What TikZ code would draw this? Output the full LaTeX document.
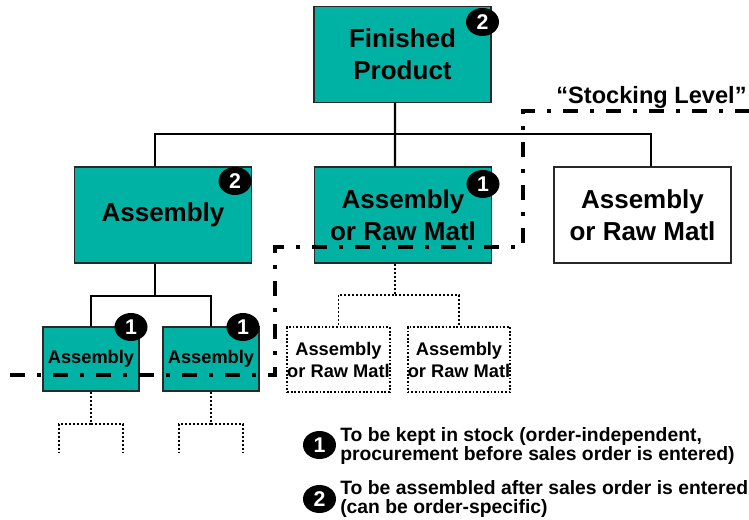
\documentclass[tikz,border=0pt]{standalone}
\usepackage{fontspec}
\setmainfont{Liberation Sans}
\usetikzlibrary{shapes.geometric}
\definecolor{tealbox}{RGB}{0,178,164}
\definecolor{boxline}{RGB}{40,40,40}
\begin{document}
\begin{tikzpicture}[x=0.75pt,y=-0.75pt,
  bigbox/.style={draw=boxline, line width=1.1pt, fill=tealbox, inner sep=0pt, align=center,
    minimum width=132.5pt, minimum height=72pt, font=\bfseries\fontsize{19.5}{24}\selectfont},
  whitebox/.style={bigbox, fill=white},
  smallbox/.style={draw=boxline, line width=1.1pt, fill=tealbox, inner sep=0pt, align=center,
    minimum width=72pt, minimum height=48pt, font=\bfseries\fontsize{13.7}{16.5}\selectfont},
  dotbox/.style={draw=black, line width=1.3pt, dash pattern=on 1.3pt off 1.4pt, inner sep=0pt, align=center,
    minimum width=73pt, minimum height=48.75pt, font=\bfseries\fontsize{13.7}{16.5}\selectfont},
  badge/.style={ellipse, fill=black, text=white, inner sep=0pt, minimum width=24.75pt, minimum height=21pt,
    font=\bfseries\fontsize{16}{16}\selectfont},
  tree/.style={draw=black, line width=1.6pt},
  dottree/.style={draw=black, line width=1.4pt, dash pattern=on 1.4pt off 1.6pt},
  stockline/.style={draw=black, line width=3pt, dash pattern=on 11.25pt off 9pt on 3pt off 9pt},
  legend/.style={anchor=base west, inner sep=0pt, font=\bfseries\fontsize{14.5}{17}\selectfont},
  stocklabel/.style={anchor=base, inner sep=0pt, font=\bfseries\fontsize{17.7}{20}\selectfont}
]
\useasboundingbox (0,0) rectangle (749,520);

% boxes
\node[bigbox] (fp) at (402.5,54.5) {Finished\\Product};
\node[bigbox] (asm) at (163,215) {Assembly};
\node[bigbox] (mid) at (403,215) {Assembly\\or Raw Matl};
\node[whitebox] (wht) at (642.5,215) {Assembly\\or Raw Matl};
\node[smallbox] (sa1) at (91,359) {Assembly};
\node[smallbox] (sa2) at (211,359) {Assembly};
\node[dotbox] (d1) at (338.5,359.5) {Assembly\\or Raw Matl};
\node[dotbox] (d2) at (459,359.5) {Assembly\\or Raw Matl};

% free ends
\coordinate (e1) at (59,453);
\coordinate (e2) at (123,453);
\coordinate (e3) at (179,453);
\coordinate (e4) at (243,453);

% solid tree
\path[tree] ([xshift=-5.6pt]fp.south) -- ([xshift=-6pt]mid.north);
\path[tree] ([xshift=-6pt]asm.north) -- ++(0,-32) -| ([xshift=6.4pt]wht.north);
\path[tree] ([xshift=-6pt]asm.south) -- ++(0,32) -| (sa1.north);
\path[tree] ([xshift=-6pt]asm.south) ++(0,32) -| (sa2.north);

% dotted tree
\path[dottree] ([xshift=-6pt]mid.south) -- ++(0,31) -| (d1.north);
\path[dottree] ([xshift=-6pt]mid.south) ++(0,31) -| (d2.north);
\path[dottree] (sa1.south) -- ++(0,32) -| (e1);
\path[dottree] (sa1.south) ++(0,32) -| (e2);
\path[dottree] (sa2.south) -- ++(0,32) -| (e3);
\path[dottree] (sa2.south) ++(0,32) -| (e4);

% badges
\node[badge] (bfp) at (482.5,22) {2};
\node[badge] (basm) at (235,181) {2};
\node[badge] (bmid) at (483,184) {1};
\node[badge] (bsa1) at (131,327) {1};
\node[badge] (bsa2) at (243,327) {1};

% stocking level line
\coordinate (s0) at (10,375);
\coordinate (s1) at (275,375);
\coordinate (s2) at (275,247);
\coordinate (s3) at (523,247);
\coordinate (s4) at (523,111);
\coordinate (s5) at (749,111);
\path[stockline] (s0) -- (s1) -- (s2) -- (s3) -- (s4) -- (s5);
\node[stocklabel] (stk) at (651.5,104) {“Stocking Level”};

% legend
\node[badge] (lb1) at (319.5,445) {1};
\node[badge] (lb2) at (319.5,499) {2};
\node[legend] (l1) at (340,441) {To be kept in stock (order-independent,};
\node[legend] (l2) at (340,460) {procurement before sales order is entered)};
\node[legend] (l3) at (340,494) {To be assembled after sales order is entered};
\node[legend] (l4) at (340,513) {(can be order-specific)};
\end{tikzpicture}
\end{document}
